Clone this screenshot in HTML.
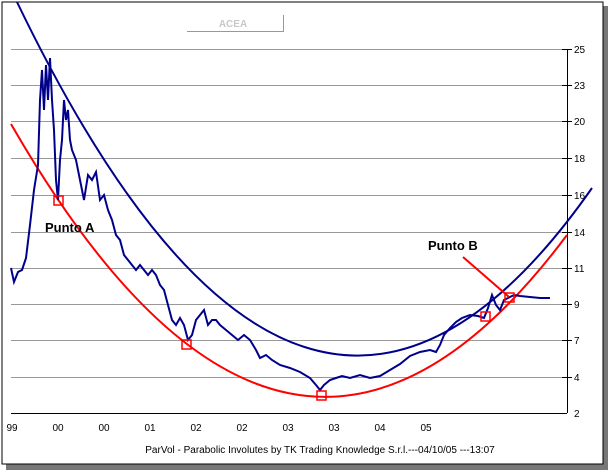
<!DOCTYPE html><html><head><style>body{margin:0;background:#fff}svg{display:block;font-family:"Liberation Sans",sans-serif}</style></head><body>
<svg width="610" height="472" xmlns="http://www.w3.org/2000/svg">
<rect x="6" y="6" width="602" height="464" fill="#777"/>
<rect x="2" y="2" width="601" height="462" fill="#fff" stroke="#000" stroke-width="1"/>
<g stroke="#999" stroke-width="1">
<line x1="11" y1="49.5" x2="567" y2="49.5"/><line x1="11" y1="85.5" x2="567" y2="85.5"/><line x1="11" y1="121.5" x2="567" y2="121.5"/><line x1="11" y1="158.5" x2="567" y2="158.5"/><line x1="11" y1="195.5" x2="567" y2="195.5"/><line x1="11" y1="232.5" x2="567" y2="232.5"/><line x1="11" y1="268.5" x2="567" y2="268.5"/><line x1="11" y1="304.5" x2="567" y2="304.5"/><line x1="11" y1="340.5" x2="567" y2="340.5"/><line x1="11" y1="377.5" x2="567" y2="377.5"/>
</g>
<line x1="11" y1="413.5" x2="567" y2="413.5" stroke="#000"/>
<line x1="567.5" y1="49" x2="567.5" y2="413" stroke="#000"/>
<g stroke="#000"><line x1="562" y1="49.5" x2="572" y2="49.5"/><line x1="562" y1="85.5" x2="572" y2="85.5"/><line x1="562" y1="121.5" x2="572" y2="121.5"/><line x1="562" y1="158.5" x2="572" y2="158.5"/><line x1="562" y1="195.5" x2="572" y2="195.5"/><line x1="562" y1="232.5" x2="572" y2="232.5"/><line x1="562" y1="268.5" x2="572" y2="268.5"/><line x1="562" y1="304.5" x2="572" y2="304.5"/><line x1="562" y1="340.5" x2="572" y2="340.5"/><line x1="562" y1="377.5" x2="572" y2="377.5"/></g>
<g font-size="10" fill="#000"><text x="574" y="53">25</text><text x="574" y="89">23</text><text x="574" y="125">20</text><text x="574" y="162">18</text><text x="574" y="199">16</text><text x="574" y="236">14</text><text x="574" y="272">11</text><text x="574" y="308">9</text><text x="574" y="344">7</text><text x="574" y="381">4</text><text x="574" y="417">2</text></g>
<g font-size="10" fill="#000" text-anchor="middle"><text x="12" y="431">99</text><text x="58" y="431">00</text><text x="104" y="431">00</text><text x="150" y="431">01</text><text x="196" y="431">02</text><text x="242" y="431">02</text><text x="288" y="431">03</text><text x="334" y="431">03</text><text x="380" y="431">04</text><text x="426" y="431">05</text></g>
<text x="320" y="453" font-size="10" text-anchor="middle">ParVol - Parabolic Involutes by TK Trading Knowledge S.r.l.---04/10/05 ---13:07</text>
<polyline points="187,31.5 283.5,31.5 283.5,15" fill="none" stroke="#999"/>
<text x="233" y="27" font-size="10" font-weight="bold" fill="#c8c8c8" text-anchor="middle">ACEA</text>
<path d="M11,124 Q289,607 567,235" fill="none" stroke="#f00" stroke-width="2"/>
<path d="M17,2 Q304.5,599 592,188" fill="none" stroke="#00008b" stroke-width="2"/>
<polyline fill="none" stroke="#00008b" stroke-width="2" points="11,268 14,282 18,272 22,270 26,258 30,225 34,190 38,165 40,100 42,70 44,110 46,65 48,100 50,58 52,100 54,130 56,180 58,200 60,160 62,140 64,100 66,120 68,110 70,140 72,150 76,160 80,180 84,200 88,175 92,180 96,172 100,200 104,195 108,210 112,220 116,235 120,240 124,255 128,260 132,265 136,270 140,265 144,270 148,275 152,270 156,275 160,285 164,290 168,305 172,320 176,325 180,318 184,325 188,340 192,335 196,320 200,315 204,310 208,325 212,320 216,320 220,325 226,330 232,335 238,340 244,335 250,340 256,350 260,358 266,355 272,360 280,365 290,368 300,372 310,378 316,385 320,390 324,385 330,380 336,378 342,376 350,378 360,375 370,378 380,376 390,370 400,364 410,356 420,352 430,350 436,352 440,345 444,335 450,328 456,322 462,318 470,315 478,316 484,318 488,308 492,295 496,305 500,310 504,300 508,298 514,295 520,296 530,297 540,298 550,298"/>
<g fill="none" stroke="#f00" stroke-width="1.5"><rect x="54" y="196" width="9" height="9"/><rect x="182" y="340" width="9" height="9"/><rect x="317" y="391" width="9" height="9"/><rect x="481" y="312" width="9" height="9"/><rect x="505" y="293" width="9" height="9"/></g>
<line x1="463" y1="257" x2="509" y2="297" stroke="#f00" stroke-width="2"/>
<text x="45" y="232" font-size="13" font-weight="bold">Punto A</text>
<text x="428" y="250" font-size="13" font-weight="bold">Punto B</text>
</svg></body></html>
